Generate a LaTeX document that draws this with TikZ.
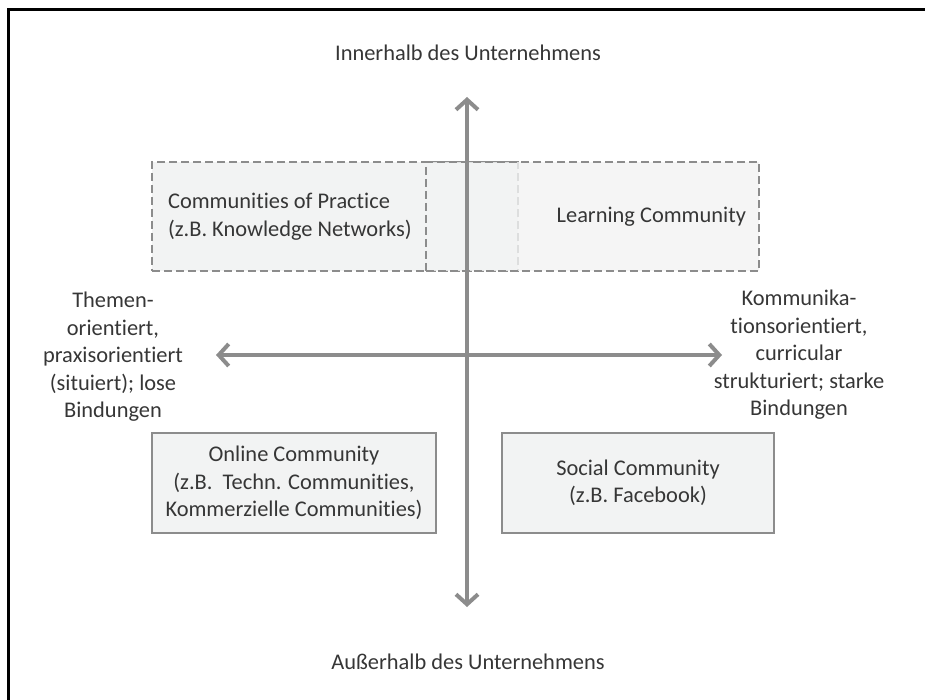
\documentclass[tikz,border=0pt]{standalone}
\usepackage{fontspec}
\setmainfont{Carlito}[Ligatures={NoCommon,NoRequired}]
\usepackage{xcolor}
\usetikzlibrary{arrows.meta,positioning}
\definecolor{axisgray}{HTML}{8C8C8C}
\definecolor{boxfill}{HTML}{F2F3F3}
\definecolor{txtgray}{HTML}{363636}
\tikzset{
  quadbox/.style={draw=axisgray, line width=1pt, fill=boxfill, text=txtgray, align=center, inner sep=0pt},
  dashbox/.style={quadbox, dash pattern=on 4pt off 2pt},
  axis/.style={draw=axisgray, line width=2pt, {Straight Barb[length=5pt,width=11pt]}-{Straight Barb[length=5pt,width=11pt]}},
  lbl/.style={text=txtgray, align=center},
}

\begin{document}
\begin{tikzpicture}[x=0.5pt, y=-0.5pt, font=\fontsize{11.2}{13.75}\selectfont]
	\useasboundingbox (0,0) rectangle (925,700);
	% frame
	\draw[line width=1.5pt] (8,700) -- (8,10) -- (925,10);
	
	% upper boxes
	\node[dashbox, minimum width=183pt, minimum height=54.5pt] (cop) at (335,216.5) {};
	\node[dashbox, fill opacity=0.8, minimum width=166.5pt, minimum height=54.5pt] (lc) at (592.5,216.5) {};
	\node[lbl, anchor=west, align=left] (coptxt) at ([xshift=5pt]cop.west) {Communities of Practice\\(z.B. Knowledge Networks)};
	\node[lbl, anchor=east] (lctxt) at ([xshift=-3.5pt]lc.east) {Learning Community};
	
	% lower boxes
	\node[quadbox, minimum width=142pt, minimum height=50pt] (online) at (294,483) {Online Community\\(z.B.\ \ Techn. Communities,\\Kommerzielle Communities)};
	\node[quadbox, minimum width=136pt, minimum height=50pt] (social) at (638,483) {Social Community\\(z.B. Facebook)};
	
	% axes
	\coordinate (n) at (467,97);
	\coordinate (s) at (467,607);
	\coordinate (w) at (216,355);
	\coordinate (e) at (722,355);
	\draw[axis] (n) -- (s);
	\draw[axis] (w) -- (e);
	
	% axis labels
	\node[lbl] (inner) at (468,53) {Innerhalb des Unternehmens};
	\node[lbl] (outer) at (468,662) {Außerhalb des Unternehmens};
	\node[lbl] (themen) at (113,357) {Themen-\\orientiert,\\praxisorientiert\\(situiert); lose\\Bindungen};
	\node[lbl] (kommu) at (799,355) {Kommunika-\\tionsorientiert,\\curricular\\strukturiert; starke\\Bindungen};
	
\end{tikzpicture}
\end{document}
